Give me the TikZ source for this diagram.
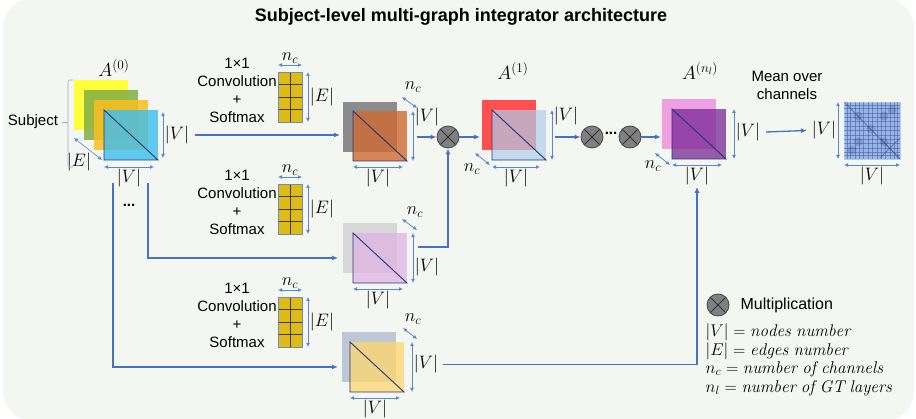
\RequirePackage{fix-cm}
\documentclass[tikz,border=0pt]{standalone}
\usepackage{fontspec}
\setsansfont{Liberation Sans}
\usetikzlibrary{arrows.meta,calc}

\definecolor{panel}{RGB}{244,246,241}
\definecolor{flowblue}{RGB}{68,114,196}
\definecolor{dimblue}{RGB}{88,136,212}
\definecolor{bracegray}{RGB}{150,172,212}
\definecolor{edgenavy}{RGB}{38,52,120}
\definecolor{cellgold}{RGB}{222,188,24}
\definecolor{cellline}{RGB}{70,58,10}
\definecolor{gridedge}{RGB}{110,138,185}
\definecolor{stackyellow}{RGB}{255,255,60}
\definecolor{stackgreen}{RGB}{130,175,70}
\definecolor{stackgold}{RGB}{250,190,30}
\definecolor{stackblue}{RGB}{60,190,240}
\definecolor{grayone}{RGB}{140,140,140}
\definecolor{convorange}{RGB}{208,107,52}
\definecolor{graytwo}{RGB}{215,215,215}
\definecolor{convpink}{RGB}{222,180,228}
\definecolor{graythree}{RGB}{190,200,212}
\definecolor{convyellow}{RGB}{255,215,110}
\definecolor{layerred}{RGB}{255,80,80}
\definecolor{layerblue}{RGB}{175,205,235}
\definecolor{layerpink}{RGB}{238,160,225}
\definecolor{layerpurple}{RGB}{120,40,150}
\definecolor{meanblue}{RGB}{150,182,232}
\definecolor{meanline}{RGB}{55,75,135}

\tikzset{
  flow/.style={draw=flowblue, line width=1.3pt, -{Latex[length=6pt,width=5pt]}},
  dimarrow/.style={draw=dimblue, line width=0.8pt,
    {Latex[length=4pt,width=4pt]}-{Latex[length=4pt,width=4pt]}},
  mat/.style={minimum width=54pt, minimum height=50pt, inner sep=0pt,
    outer sep=0pt, anchor=north west},
  tri/.style={draw=edgenavy, line width=0.9pt},
  celline/.style={draw=cellline, line width=0.7pt},
  convgrid/.style={minimum width=24pt, minimum height=50pt, inner sep=0pt,
    outer sep=0pt, anchor=north west, fill=cellgold, draw=gridedge,
    line width=0.8pt,
    path picture={
      \draw[celline] (path picture bounding box.north) -- (path picture bounding box.south);
      \foreach \f in {0.25,0.5,0.75}
        \draw[celline] ($(path picture bounding box.north west)!\f!(path picture bounding box.south west)$)
          -- ($(path picture bounding box.north east)!\f!(path picture bounding box.south east)$);
    }},
  mult/.style={circle, draw=black!72, fill=black!50, line width=0.8pt,
    minimum size=22pt, inner sep=0pt,
    path picture={
      \draw[black!80, line width=0.8pt] (path picture bounding box.north west) -- (path picture bounding box.south east);
      \draw[black!80, line width=0.8pt] (path picture bounding box.north east) -- (path picture bounding box.south west);
    }},
  txt/.style={font=\sffamily\fontsize{15}{18}\selectfont, align=center},
  dimlbl/.style={font=\fontsize{18}{21}\selectfont, inner sep=1.5pt},
  layerlbl/.style={font=\fontsize{19}{22}\selectfont, inner sep=1pt},
  matline/.style={draw=meanline, line width=0.5pt, opacity=0.45},
}

\begin{document}
\begin{tikzpicture}[x=1pt, y=-1pt]
  \useasboundingbox (0,0) rectangle (916,419);
  \fill[panel, rounded corners=30pt] (3,-2) rectangle (914,421);

  \node[font=\sffamily\bfseries\fontsize{18}{22}\selectfont] (title) at (461,17)
    {Subject-level multi-graph integrator architecture};

  % subject: stack of edge-type adjacency matrices
  \node[mat, fill=stackyellow] (s1) at (74,80) {};
  \node[mat, fill=stackgreen, fill opacity=.85] (s2) at (84,90) {};
  \node[mat, fill=stackgold, fill opacity=.85] (s3) at (94,100) {};
  \node[mat, fill=stackblue, fill opacity=.8] (s4) at (104,110) {};
  \draw[tri] (s4.north west) -- (s4.south west) -- (s4.south east) -- cycle;
  \node[layerlbl] (a0) at (114,68) {$A^{(0)}$};
  \draw[dimarrow] ([xshift=5pt,yshift=-2pt]s4.north east) -- ([xshift=5pt,yshift=2pt]s4.south east)
    node[dimlbl, midway, right] (vs4) {$|V|$};
  \draw[dimarrow] ([yshift=-7pt]s4.south west) -- ([xshift=-4pt,yshift=-7pt]s4.south east)
    node[dimlbl, midway, below] (hs4) {$|V|$};
  \draw[dimarrow, line width=0.6pt] ([yshift=-8pt]s1.south west) -- ([xshift=-2pt]s4.south west);
  \node[dimlbl] (es4) at (79,162) {$|E|$};

  \node[txt] (subj) at (33,122) {Subject};
  \coordinate (brace) at (68,122);
  \draw[bracegray, line width=0.6pt, rounded corners=2pt] (73,80) -- (68,80) -- (68,167) -- (73,167);
  \draw[bracegray, line width=0.6pt] (subj.east) -- (brace);
  \node[txt, font=\sffamily\bfseries\fontsize{15}{18}\selectfont] (dots) at (129,205) {...};

  % 1x1 convolution kernels
  \node[txt] (conv1) at (237,90) {1×1\\Convolution\\+\\Softmax};
  \node[convgrid] (g1) at (278,72) {};
  \draw[dimarrow] ([yshift=7pt]g1.north west) -- ([yshift=7pt]g1.north east)
    node[dimlbl, midway, above=0pt] (ncg1) {$n_c$};
  \draw[dimarrow] ([xshift=6pt]g1.north east) -- ([xshift=6pt]g1.south east)
    node[dimlbl, midway, right] (eg1) {$|E|$};

  \node[txt] (conv2) at (237,202) {1×1\\Convolution\\+\\Softmax};
  \node[convgrid] (g2) at (278,184) {};
  \draw[dimarrow] ([yshift=7pt]g2.north west) -- ([yshift=7pt]g2.north east)
    node[dimlbl, midway, above=0pt] (ncg2) {$n_c$};
  \draw[dimarrow] ([xshift=6pt]g2.north east) -- ([xshift=6pt]g2.south east)
    node[dimlbl, midway, right] (eg2) {$|E|$};

  \node[txt] (conv3) at (237,315) {1×1\\Convolution\\+\\Softmax};
  \node[convgrid] (g3) at (278,297) {};
  \draw[dimarrow] ([yshift=7pt]g3.north west) -- ([yshift=7pt]g3.north east)
    node[dimlbl, midway, above=0pt] (ncg3) {$n_c$};
  \draw[dimarrow] ([xshift=6pt]g3.north east) -- ([xshift=6pt]g3.south east)
    node[dimlbl, midway, right] (eg3) {$|E|$};

  % selected channel matrices
  \node[mat, fill=grayone] (c1b) at (343,102) {};
  \node[mat, fill=convorange, fill opacity=.8] (c1) at (353,111) {};
  \draw[tri] (c1.north west) -- (c1.south west) -- (c1.south east) -- cycle;
  \draw[dimarrow] ([xshift=6pt]c1.north east) -- ([xshift=6pt]c1.south east)
    node[dimlbl, pos=0.12, right] (vc1) {$|V|$};
  \draw[dimarrow] ([yshift=-6pt]c1.south west) -- ([xshift=-4pt,yshift=-6pt]c1.south east)
    node[dimlbl, midway, below] (hc1) {$|V|$};
  \draw[dimarrow] ([xshift=-5pt,yshift=14pt]c1.north east) -- ([xshift=10pt,yshift=3pt]c1.north east);
  \node[dimlbl] (ncc1) at ([xshift=6pt,yshift=24pt]c1.north east) {$n_c$};

  \node[mat, fill=graytwo] (c2b) at (343,223) {};
  \node[mat, fill=convpink, fill opacity=.75] (c2) at (353,233) {};
  \draw[tri] (c2.north west) -- (c2.south west) -- (c2.south east) -- cycle;
  \draw[dimarrow] ([xshift=6pt]c2.north east) -- ([xshift=6pt]c2.south east)
    node[dimlbl, pos=0.68, right] (vc2) {$|V|$};
  \draw[dimarrow] ([yshift=-6pt]c2.south west) -- ([xshift=-4pt,yshift=-6pt]c2.south east)
    node[dimlbl, midway, below] (hc2) {$|V|$};
  \draw[dimarrow] ([xshift=-5pt,yshift=14pt]c2.north east) -- ([xshift=10pt,yshift=3pt]c2.north east);
  \node[dimlbl] (ncc2) at ([xshift=8pt,yshift=21pt]c2.north east) {$n_c$};

  \node[mat, fill=graythree] (c3b) at (342,332) {};
  \node[mat, fill=convyellow, fill opacity=.75] (c3) at (350,342) {};
  \draw[tri] (c3.north west) -- (c3.south west) -- (c3.south east) -- cycle;
  \draw[dimarrow] ([xshift=8pt]c3.north east) -- ([xshift=8pt]c3.south east)
    node[dimlbl, pos=0.45, right] (vc3) {$|V|$};
  \draw[dimarrow] ([yshift=-6pt]c3.south west) -- ([xshift=-4pt,yshift=-6pt]c3.south east)
    node[dimlbl, midway, below] (hc3) {$|V|$};
  \draw[dimarrow] ([xshift=-1pt,yshift=14pt]c3.north east) -- ([xshift=13pt,yshift=3pt]c3.north east);
  \node[dimlbl] (ncc3) at ([xshift=9pt,yshift=23pt]c3.north east) {$n_c$};

  % first graph transformer layer
  \node[mat, fill=layerred] (a1b) at (482,100) {};
  \node[mat, fill=layerblue, fill opacity=.7] (a1) at (492,110) {};
  \draw[tri] (a1.north west) -- (a1.south west) -- (a1.south east) -- cycle;
  \node[layerlbl] (a1lbl) at (513,71) {$A^{(1)}$};
  \draw[dimarrow] ([xshift=6pt]a1.north east) -- ([xshift=6pt]a1.south east)
    node[dimlbl, pos=0.12, right] (va1) {$|V|$};
  \draw[dimarrow] ([yshift=-7pt]a1.south west) -- ([xshift=-6pt,yshift=-7pt]a1.south east)
    node[dimlbl, midway, below] (ha1) {$|V|$};
  \draw[dimarrow] ([xshift=-17pt,yshift=7pt]a1.south west) -- ([xshift=-2pt,yshift=-5pt]a1.south west);
  \node[dimlbl] (nca1) at ([xshift=-20pt,yshift=-9pt]a1.south west) {$n_c$};

  % last layer
  \node[mat, fill=layerpink] (anlb) at (662,99) {};
  \node[mat, fill=layerpurple, fill opacity=.75] (anl) at (672,109) {};
  \draw[tri] (anl.north west) -- (anl.south west) -- (anl.south east) -- cycle;
  \node[layerlbl] (anllbl) at (700,71) {$A^{(n_l)}$};
  \draw[dimarrow] ([xshift=8pt]anl.north east) -- ([xshift=8pt]anl.south east)
    node[dimlbl, pos=0.46, right] (vanl) {$|V|$};
  \draw[dimarrow] ([yshift=-6pt]anl.south west) -- ([xshift=-4pt,yshift=-6pt]anl.south east)
    node[dimlbl, midway, below] (hanl) {$|V|$};
  \draw[dimarrow] ([xshift=-17pt,yshift=6pt]anl.south west) -- ([xshift=-2pt,yshift=-6pt]anl.south west);
  \node[dimlbl] (ncanl) at ([xshift=-19pt,yshift=-7pt]anl.south west) {$n_c$};

  % mean over channels
  \node[txt] (mean) at (787,85) {Mean over\\channels};
  \node[minimum width=56pt, minimum height=57pt, inner sep=0pt, outer sep=0pt,
    anchor=north west, fill=meanblue, draw=meanblue!70!white, line width=0.6pt] (out) at (844,102) {};
  \begin{scope}
    \clip (out.south west) rectangle (out.north east);
    \foreach \p in {3,6,11,15,19,24,28,33,37,41,46,50,53}
    {
      \draw[matline] ([xshift=\p pt]out.north west) -- ([xshift=\p pt]out.south west);
      \draw[matline] ([yshift=-\p pt]out.north west) -- ([yshift=-\p pt]out.north east);
    }
    \foreach \a/\b in {14/14,14/40,40/14,40/40,27/27,8/48,48/8}
      \fill[meanline, opacity=0.25] ([shift={(\a pt,-\b pt)}]out.north west) circle (4.5pt);
    \draw[meanline, line width=0.8pt, opacity=0.6] (out.north west) -- (out.south east);
    \draw[meanline, line width=0.8pt, opacity=0.5] ([shift={(36pt,-36pt)}]out.north west) -- (out.south east);
    \draw[meanline, line width=0.8pt, opacity=0.5] ([shift={(56pt,-36pt)}]out.north west) -- ([shift={(36pt,-56pt)}]out.north west);
  \end{scope}
  \draw[dimarrow] ([xshift=-6pt]out.north west) -- ([xshift=-6pt]out.south west)
    node[dimlbl, midway, left] (vout) {$|V|$};
  \draw[dimarrow] ([yshift=-6pt]out.south west) -- ([yshift=-6pt]out.south east)
    node[dimlbl, midway, below] (hout) {$|V|$};

  % multiplications
  \node[mult] (m1) at (448,137) {};
  \node[mult] (m2) at (592,137) {};
  \node[txt, font=\sffamily\bfseries\fontsize{15}{18}\selectfont] (mdots) at (611,133) {...};
  \node[mult] (m3) at (630,137) {};

  % connectors
  \coordinate (t2) at (148,183);
  \coordinate (t3) at (113,183);
  \draw[flow] ([xshift=4pt]vs4.east) -- ([xshift=-3pt]vs4.east -| c1b.west);
  \draw[flow] (t2) |- ([xshift=-15pt]c2.west);
  \draw[flow] (t3) |- ([xshift=-12pt]c3.west);
  \draw[flow] ([xshift=10pt]m1.west -| c1.east) -- (m1.west);
  \draw[flow] ([xshift=11pt,yshift=11pt]c2.east) -| (m1.south);
  \draw[flow] (m1.east) -- ([xshift=-2pt]m1.east -| a1b.west);
  \draw[flow] ([xshift=9pt]m2.west -| a1.east) -- (m2.west);
  \draw[flow] (m3.east) -- ([xshift=-1pt]m3.east -| anlb.west);
  \draw[flow] ([xshift=3pt]vc3.east) -| (hanl.south);
  \draw[flow] ([xshift=4pt]vanl.east) -- ([xshift=-3pt]vout.west);

  % legend
  \node[mult] (leg) at (718,305) {};
  \node[txt, font=\sffamily\fontsize{16}{19}\selectfont, anchor=west] (legmult) at (737,305) {Multiplication};
  \node[dimlbl, font=\fontsize{17}{20}\selectfont, anchor=west] (legv) at (704,332) {$|V| = \mathit{nodes\ number}$};
  \node[dimlbl, font=\fontsize{17}{20}\selectfont, anchor=west] (lege) at (704,351) {$|E| = \mathit{edges\ number}$};
  \node[dimlbl, font=\fontsize{17}{20}\selectfont, anchor=west] (legc) at (704,369) {$n_c = \mathit{number\ of\ channels}$};
  \node[dimlbl, font=\fontsize{17}{20}\selectfont, anchor=west] (legl) at (704,388) {$n_l = \mathit{number\ of\ GT\ layers}$};
\end{tikzpicture}
\end{document}
